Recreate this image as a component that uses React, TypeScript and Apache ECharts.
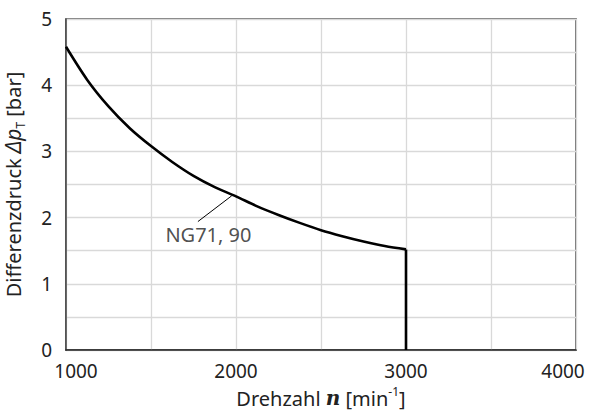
import React, { useEffect, useRef } from "react";
import * as echarts from "echarts";

// Curve NG71, 90 (Drehzahl n [min^-1], Differenzdruck Δp_T [bar])
const curveN = [1000, 1125, 1250, 1375, 1500, 1625, 1750, 1875, 2000, 2125, 2250, 2375, 2500, 2625, 2750, 2875, 3000];
const curveDp = [4.58, 4.08, 3.68, 3.35, 3.08, 2.84, 2.63, 2.46, 2.32, 2.17, 2.04, 1.92, 1.81, 1.72, 1.64, 1.57, 1.52];
// vertical limit at 3000
const limitN = [3000, 3000];
const limitDp = [1.52, 0];
// leader line for label
const leaderN = [1776, 1975];
const leaderDp = [1.94, 2.33];
const labelPos = [1838, 1.74];
const labelText = "NG71, 90";

const xTicks = [1000, 2000, 3000, 4000];
const yTicks = [0, 1, 2, 3, 4, 5];

const FONT = "Noto Sans";
const TXT = "#222";

export default function App() {
  const ref = useRef<HTMLDivElement>(null);
  useEffect(() => {
    if (!ref.current) return;
    const chart = echarts.init(ref.current, null, { renderer: "svg" });
    const zip = (a: number[], b: number[]) => a.map((v, i) => [v, b[i]]);
    chart.setOption({
      animation: false,
      backgroundColor: "#fff",
      textStyle: { fontFamily: FONT, color: TXT },
      grid: {
        left: 66,
        top: 19,
        right: 14,
        bottom: 63,
        show: true,
        borderColor: "#444",
        borderWidth: 1.5,
        backgroundColor: "transparent",
        outerBoundsMode: "none",
        containLabel: false,
      },
      xAxis: {
        type: "value",
        min: 1000,
        max: 4000,
        interval: 500,
        axisLine: { show: true, lineStyle: { color: "#222", width: 1.5 } },
        axisTick: { show: false },
        splitLine: { show: true, lineStyle: { color: "#d9d9d9", width: 1.3 } },
        axisLabel: {
          fontFamily: FONT,
          fontSize: 19,
          color: TXT,
          margin: 11,
          formatter: (v: number) => {
            if (!xTicks.includes(v)) return "";
            if (v === xTicks[0]) return "{first|" + v + "}";
            if (v === xTicks[xTicks.length - 1]) return "{last|" + v + "}";
            return String(v);
          },
          rich: {
            first: { fontFamily: FONT, fontSize: 19, color: TXT, padding: [0, 0, 0, 20] },
            last: { fontFamily: FONT, fontSize: 19, color: TXT, padding: [0, 26, 0, 0] },
          },
        },
        name: "{a|Drehzahl }{n|n}{a| [min}{sup|-1}{a|]}",
        nameLocation: "middle",
        nameGap: 35,
        nameTextStyle: {
          rich: {
            a: { fontFamily: FONT, fontSize: 20, color: TXT, lineHeight: 26 },
            n: {
              fontFamily: "DejaVu Serif",
              fontStyle: "italic",
              fontWeight: "bold",
              fontSize: 20,
              color: TXT,
              lineHeight: 26,
            },
            sup: { fontFamily: FONT, fontSize: 12, color: TXT, lineHeight: 12, verticalAlign: "top" },
          },
        },
      },
      yAxis: {
        type: "value",
        min: 0,
        max: 5,
        interval: 0.5,
        axisLine: { show: true, lineStyle: { color: "#444", width: 1.5 } },
        axisTick: { show: false },
        splitLine: { show: true, lineStyle: { color: "#d9d9d9", width: 1.3 } },
        axisLabel: {
          fontFamily: FONT,
          fontSize: 19,
          color: TXT,
          margin: 14,
          formatter: (v: number) => (yTicks.includes(v) ? String(v) : ""),
        },
        name: "{a|Differenzdruck }{d|Δp}{sub|T}{a| [bar]}",
        nameLocation: "middle",
        nameGap: 40,
        nameRotate: 90,
        nameTextStyle: {
          rich: {
            a: { fontFamily: FONT, fontSize: 20, color: TXT, lineHeight: 26 },
            d: { fontFamily: FONT, fontStyle: "italic", fontSize: 21, color: TXT, lineHeight: 26 },
            sub: { fontFamily: FONT, fontSize: 12, color: TXT, lineHeight: 12, verticalAlign: "bottom" },
          },
        },
      },
      series: [
        {
          type: "line",
          data: zip(curveN, curveDp),
          smooth: 0.3,
          symbol: "none",
          lineStyle: { color: "#000", width: 2.6 },
          z: 5,
        },
        {
          type: "line",
          data: zip(limitN, limitDp),
          symbol: "none",
          lineStyle: { color: "#000", width: 2.6 },
          z: 5,
        },
        {
          type: "line",
          data: zip(leaderN, leaderDp),
          symbol: "none",
          lineStyle: { color: "#000", width: 1 },
          z: 4,
        },
        {
          type: "scatter",
          data: [labelPos],
          symbolSize: 0,
          label: {
            show: true,
            position: "inside",
            formatter: labelText,
            fontFamily: FONT,
            fontSize: 20,
            color: TXT,
          },
          z: 6,
        },
      ],
    });
    return () => chart.dispose();
  }, []);
  return <div ref={ref} style={{ width: 590, height: 413, position: "absolute", left: 0, top: 0 }} />;
}
